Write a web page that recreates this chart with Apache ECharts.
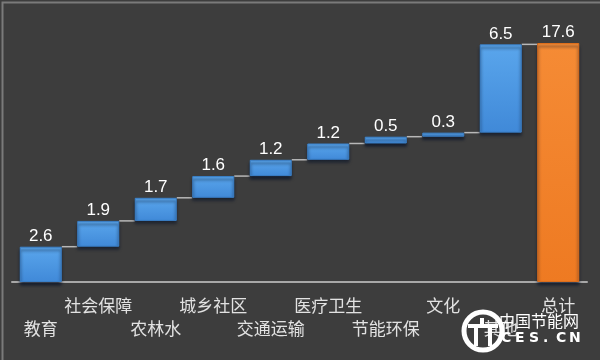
<!DOCTYPE html>
<html><head><meta charset="utf-8">
<script src="https://cdn.jsdelivr.net/npm/echarts@6/dist/echarts.min.js"></script>
<style>html,body{margin:0;padding:0;background:#3d3d3d;}#c{width:600px;height:360px;}</style>
</head><body><div id="c"></div>
<script>
const categories = ['教育','社会保障','农林水','城乡社区','交通运输','医疗卫生','节能环保','文化','其他','总计'];
const values = [2.6, 1.9, 1.7, 1.6, 1.2, 1.2, 0.5, 0.3, 6.5, 17.6];
const isTotal = [false,false,false,false,false,false,false,false,false,true];

const bases = [];
let run = 0;
values.forEach((v,i)=>{ if(isTotal[i]){bases.push(0);} else {bases.push(Math.round(run*10)/10); run += v;} });
const tops = values.map((v,i)=>bases[i]+v);
const connectors = [];
for(let i=0;i<values.length-1;i++){ connectors.push([i, Math.round(tops[i]*10)/10]); }

const blue = new echarts.graphic.LinearGradient(0,0,0,1,[{offset:0,color:'#5aa6ec'},{offset:1,color:'#4089d8'}]);
const orange = new echarts.graphic.LinearGradient(0,0,0,1,[{offset:0,color:'#f58b35'},{offset:1,color:'#ee7a22'}]);

const chart = echarts.init(document.getElementById('c'));
chart.setOption({
  backgroundColor:'#3d3d3d',
  animation:false,
  grid:{left:12,right:13,top:43,bottom:78},
  xAxis:{type:'category',data:categories,
    axisLine:{lineStyle:{color:'#a8a8a8',width:2}},
    axisTick:{show:false},
    axisLabel:{interval:0,margin:12,color:'#e2e2e2',fontSize:17,lineHeight:23,
      fontFamily:'"Noto Sans CJK SC", sans-serif',
      formatter:(v,i)=> i%2===0 ? '\n'+v : v}},
  yAxis:{type:'value',min:0,max:17.6,show:false,splitLine:{show:false}},
  series:[
    {type:'bar',stack:'w',data:bases,barWidth:42,itemStyle:{color:'transparent'},silent:true},
    {type:'bar',stack:'w',barWidth:42,
      data:values.map((v,i)=>({value:v,itemStyle:{color:isTotal[i]?orange:blue,borderColor:isTotal[i]?'#dc6e1c':'#3b80c8'}})),
      itemStyle:{borderWidth:1,shadowBlur:3,shadowColor:'rgba(10,20,40,0.75)',shadowOffsetY:3},
      label:{show:true,position:'top',distance:2,color:'#ffffff',fontSize:17,fontFamily:'Liberation Sans, Arial, sans-serif'},
      z:3},
    {type:'custom',data:connectors,z:2,silent:true,
      renderItem:(params,api)=>{
        const i=api.value(0), y=api.value(1);
        const p1=api.coord([i,y]), p2=api.coord([i+1,y]);
        return {type:'line',shape:{x1:p1[0]+21,y1:p1[1],x2:p2[0]-21,y2:p2[1]},style:{stroke:'#b8b8b8',lineWidth:1.5}};
      }}
  ],
  graphic:[
    {type:'rect',left:0,top:0,shape:{width:599,height:359},style:{fill:'none',stroke:'#7a7a7a',lineWidth:2},silent:true},
    {type:'circle',shape:{cx:483,cy:331,r:19},style:{fill:'none',stroke:'#ffffff',lineWidth:5},z:10},
    {type:'rect',shape:{x:468,y:324,width:30,height:4},style:{fill:'#ffffff'},z:10},
    {type:'rect',shape:{x:474,y:324,width:4,height:22},style:{fill:'#ffffff'},z:10},
    {type:'rect',shape:{x:488,y:324,width:4,height:22},style:{fill:'#ffffff'},z:10},
    {type:'rect',shape:{x:480,y:318,width:4,height:8},style:{fill:'#ffffff'},z:10},
    {type:'text',x:499,y:313,style:{text:'中国节能网',fill:'#ffffff',font:'16px "Noto Sans CJK SC", sans-serif'},z:10},
    {type:'text',x:501,y:331,style:{text:'C',fill:'#ffffff',font:'bold 14px "DejaVu Sans", sans-serif'},z:10},
    {type:'text',x:515,y:331,style:{text:'E',fill:'#ffffff',font:'bold 14px "DejaVu Sans", sans-serif'},z:10},
    {type:'text',x:529,y:331,style:{text:'S',fill:'#ffffff',font:'bold 14px "DejaVu Sans", sans-serif'},z:10},
    {type:'text',x:543,y:331,style:{text:'.',fill:'#ffffff',font:'bold 14px "DejaVu Sans", sans-serif'},z:10},
    {type:'text',x:556,y:331,style:{text:'C',fill:'#ffffff',font:'bold 14px "DejaVu Sans", sans-serif'},z:10},
    {type:'text',x:569,y:331,style:{text:'N',fill:'#ffffff',font:'bold 14px "DejaVu Sans", sans-serif'},z:10}
  ]
});
</script></body></html>
